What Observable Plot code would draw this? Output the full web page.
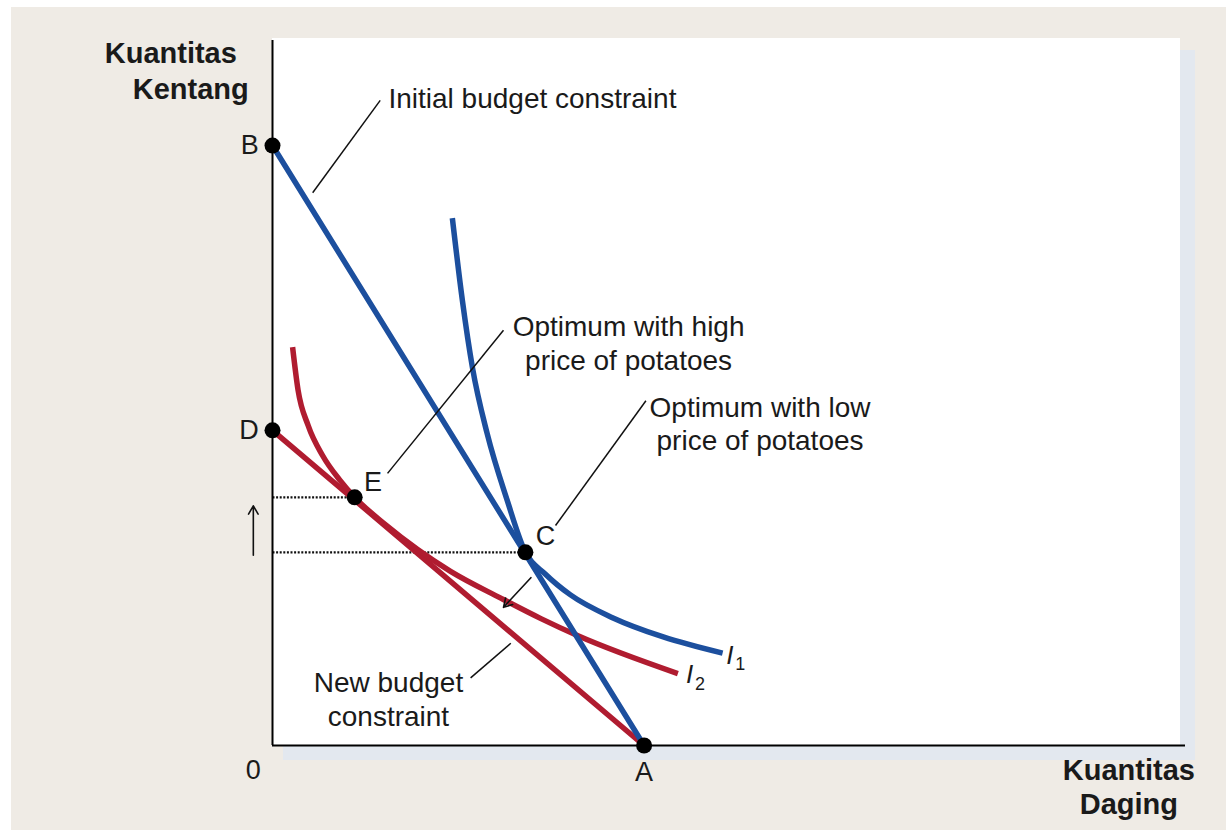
<!DOCTYPE html>
<html>
<head>
<meta charset="utf-8">
<script src="https://cdn.jsdelivr.net/npm/d3@7"></script>
<script src="https://cdn.jsdelivr.net/npm/@observablehq/plot@0.6"></script>
<style>
  html, body { margin: 0; padding: 0; background: #ffffff; }
  #wrap { position: relative; width: 1226px; height: 830px; overflow: hidden; }
  #bg { position: absolute; left: 11px; top: 7px; width: 1215px; height: 823px; background: #efebe5; }
  #shadow { position: absolute; left: 283px; top: 50px; width: 912px; height: 710px; background: #e3e8ef; }
  #panel { position: absolute; left: 272px; top: 38px; width: 908px; height: 707px; background: #ffffff; }
  #chart { position: absolute; left: 0; top: 0; }
</style>
</head>
<body>
<div id="wrap">
  <div id="bg"></div>
  <div id="shadow"></div>
  <div id="panel"></div>
  <div id="chart"></div>
</div>
<script>
// Quantity of meat (x) and quantity of potatoes (y), arbitrary units
const pointNames = ["B", "D", "E", "C", "A"];
const pointX = [0, 0, 0.90, 2.77, 4.07];
const pointY = [8.51, 4.47, 3.52, 2.74, 0];

const initialBudgetX = [0, 4.07];
const initialBudgetY = [8.51, 0];
const newBudgetX = [0, 4.07];
const newBudgetY = [4.47, 0];

const i1X = [1.97, 2.08, 2.19, 2.35, 2.57, 2.77, 2.99, 3.26, 3.73, 4.28, 4.93];
const i1Y = [7.48, 6.31, 5.36, 4.43, 3.48, 2.74, 2.43, 2.14, 1.81, 1.54, 1.31];

const i2X = [0.22, 0.28, 0.39, 0.55, 0.74, 0.90, 1.24, 1.59, 1.95, 2.50, 2.94, 3.34, 4.44];
const i2Y = [5.65, 5.04, 4.54, 4.11, 3.76, 3.52, 3.13, 2.78, 2.47, 2.09, 1.80, 1.56, 1.02];

// point label positions
const labelText = ["B", "D", "E", "C", "A", "0"];
const labelX = [-0.15, -0.15, 1.10, 2.99, 4.07, -0.21];
const labelY = [8.51, 4.47, 3.73, 2.96, -0.38, -0.35];
const labelAnchor = ["end", "end", "middle", "middle", "middle", "middle"];

// annotations
const noteText = ["Initial budget constraint", "Optimum with high\nprice of potatoes", "Optimum with low\nprice of potatoes", "New budget\nconstraint"];
const noteX = [1.27, 3.90, 5.34, 1.27];
const noteY = [9.19, 5.72, 4.58, 0.67];
const noteAnchor = ["start", "middle", "middle", "middle"];

// leader lines
const leaderX1 = [0.44, 1.26, 3.10, 2.17];
const leaderY1 = [7.84, 3.86, 3.12, 0.96];
const leaderX2 = [1.18, 2.53, 4.09, 2.61];
const leaderY2 = [9.15, 5.89, 4.89, 1.45];

// arrows: up arrow on the potato axis, shift arrow of the budget line
const arrowX1 = [-0.21, 2.83];
const arrowY1 = [2.70, 2.38];
const arrowX2 = [-0.21, 2.53];
const arrowY2 = [3.40, 1.96];

// indifference curve labels
const curveNames = ["I", "I"];
const curveSubs = ["1", "2"];
const curveLabelX = [4.97, 4.53];
const curveLabelY = [1.28, 1.00];

// axis titles
const axisTitleText = ["Kuantitas", "Kentang", "Kuantitas\nDaging"];
const axisTitleX = [-0.39, -0.26, 9.38];
const axisTitleY = [9.83, 9.32, -0.58];
const axisTitleAnchor = ["end", "end", "middle"];

const zip = (xs, ys, extra = {}) => xs.map((x, i) => {
  const o = {x, y: ys[i]};
  for (const k in extra) o[k] = extra[k][i];
  return o;
});

const points = zip(pointX, pointY, {name: pointNames});
const initialBudget = zip(initialBudgetX, initialBudgetY);
const newBudget = zip(newBudgetX, newBudgetY);
const i1 = zip(i1X, i1Y);
const i2 = zip(i2X, i2Y);
const labels = zip(labelX, labelY, {text: labelText, anchor: labelAnchor});
const notes = zip(noteX, noteY, {text: noteText, anchor: noteAnchor});
const leaders = leaderX1.map((x1, i) => ({x1, y1: leaderY1[i], x2: leaderX2[i], y2: leaderY2[i]}));
const arrows = arrowX1.map((x1, i) => ({x1, y1: arrowY1[i], x2: arrowX2[i], y2: arrowY2[i]}));
const curveLabels = zip(curveLabelX, curveLabelY, {name: curveNames, sub: curveSubs});
const axisTitles = zip(axisTitleX, axisTitleY, {text: axisTitleText, anchor: axisTitleAnchor});

const pointE = points.find(d => d.name === "E");
const pointC = points.find(d => d.name === "C");
const dotted = [pointE, pointC];

const BLUE = "#1c4f9e";
const RED = "#b01c30";
const INK = "#1a1a1a";
const FONT = "'Liberation Sans', Arial, Helvetica, sans-serif";

// text marks split by anchor (textAnchor is a constant option)
const textByAnchor = (data, opts) => ["start", "middle", "end"].map(a =>
  Plot.text(data.filter(d => d.anchor === a), {x: "x", y: "y", text: "text", textAnchor: a, clip: false, fill: INK, ...opts})
);

const chart = Plot.plot({
  width: 1226,
  height: 830,
  marginLeft: 272,
  marginRight: 41,
  marginTop: 40,
  marginBottom: 85,
  x: {domain: [0, 10], axis: null},
  y: {domain: [0, 10], axis: null},
  style: {background: "transparent", overflow: "visible", fontFamily: FONT},
  marks: [
    // dotted guide lines
    Plot.link(dotted, {x1: 0, y1: "y", x2: "x", y2: "y", stroke: "#111", strokeWidth: 2.2, strokeDasharray: "2,1.6"}),
    // axes
    Plot.ruleX([0], {y1: 0, y2: 10, stroke: "#000", strokeWidth: 2}),
    Plot.ruleY([0], {x1: 0, x2: 10, stroke: "#000", strokeWidth: 2}),
    // budget lines and indifference curves
    Plot.line(newBudget, {x: "x", y: "y", stroke: RED, strokeWidth: 5.5}),
    Plot.line(i2, {x: "x", y: "y", stroke: RED, strokeWidth: 5.5, curve: "monotone-x", strokeLinecap: "butt"}),
    Plot.line(initialBudget, {x: "x", y: "y", stroke: BLUE, strokeWidth: 5.5}),
    Plot.line(i1, {x: "x", y: "y", stroke: BLUE, strokeWidth: 5.5, curve: "monotone-x", strokeLinecap: "butt"}),
    // leader lines
    Plot.link(leaders, {x1: "x1", y1: "y1", x2: "x2", y2: "y2", stroke: "#111", strokeWidth: 1.5}),
    Plot.arrow(arrows, {x1: "x1", y1: "y1", x2: "x2", y2: "y2", stroke: "#111", strokeWidth: 1.6, headLength: 9, clip: false}),
    // points
    Plot.dot(points, {x: "x", y: "y", r: 8, fill: "#000", clip: false}),
    // labels
    ...textByAnchor(labels, {fontSize: 27}),
    ...textByAnchor(notes, {fontSize: 28, lineHeight: 1.2}),
    Plot.text(curveLabels, {x: "x", y: "y", text: "name", fontSize: 26, fontStyle: "italic", fill: INK, textAnchor: "start"}),
    Plot.text(curveLabels, {x: "x", y: "y", text: "sub", fontSize: 18, fill: INK, textAnchor: "start", dx: 9, dy: 9}),
    ...textByAnchor(axisTitles, {fontSize: 29, fontWeight: "bold", lineHeight: 1.16})
  ]
});

document.getElementById("chart").appendChild(chart);
</script>
</body>
</html>
